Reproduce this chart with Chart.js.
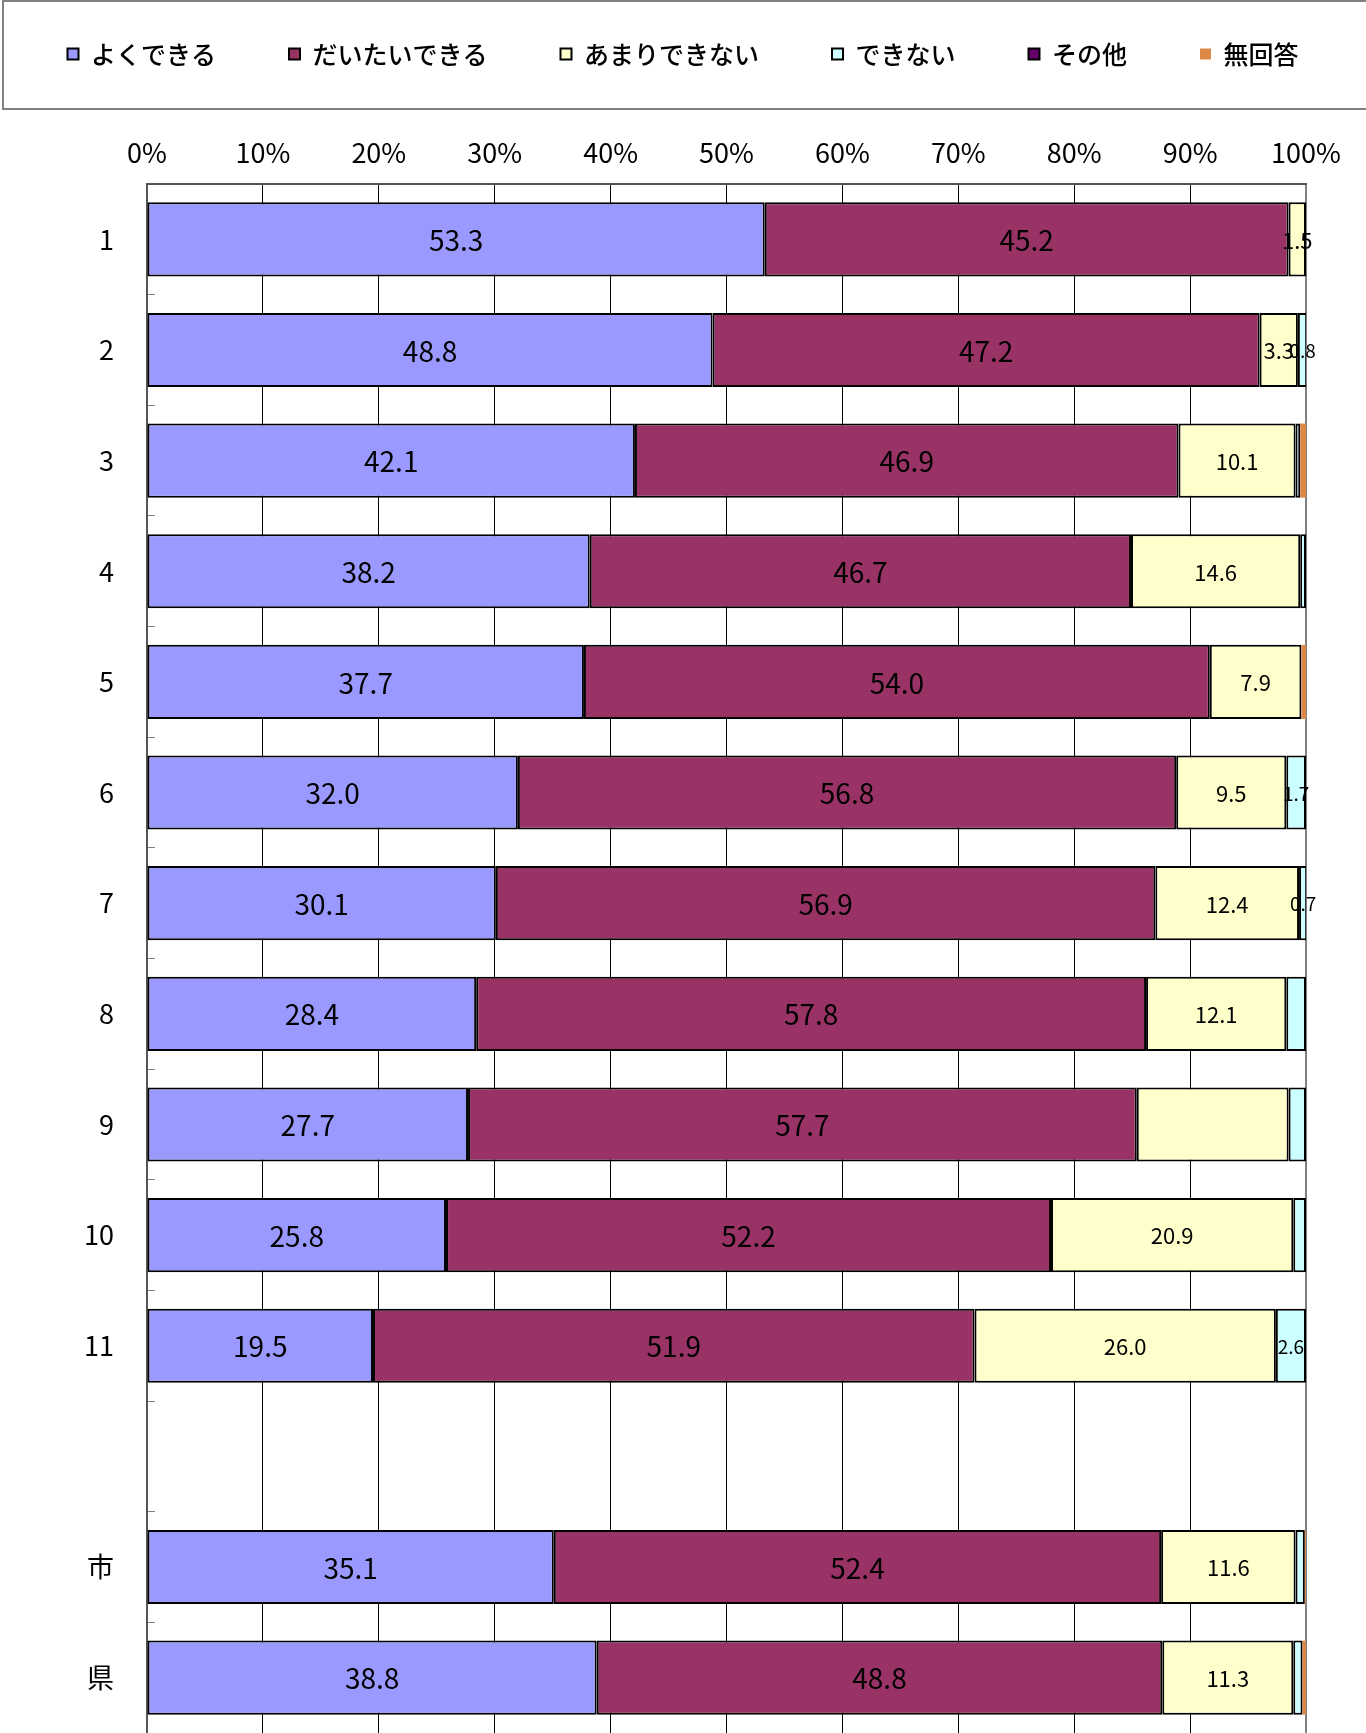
<!DOCTYPE html>
<html lang="ja">
<head>
<meta charset="UTF-8">
<title>できる度合い</title>
<script src="https://cdn.jsdelivr.net/npm/chart.js@4.4.1/dist/chart.umd.min.js"></script>
<style>
  html, body { margin: 0; padding: 0; background: #fff; }
  #wrap { width: 1366px; height: 1733px; position: relative; }
</style>
</head>
<body>
<div id="wrap"><canvas id="chart"></canvas></div>
<script>
// -----------------------------
// Data
// -----------------------------
const categories = ['1', '2', '3', '4', '5', '6', '7', '8', '9', '10', '11', '', '市', '県'];
const seriesNames = ['よくできる', 'だいたいできる', 'あまりできない', 'できない', 'その他', '無回答'];
const tickLabels = ['0%', '10%', '20%', '30%', '40%', '50%', '60%', '70%', '80%', '90%', '100%'];

const yokuDekiru   = [53.3, 48.8, 42.1, 38.2, 37.7, 32.0, 30.1, 28.4, 27.7, 25.8, 19.5, null, 35.1, 38.8];
const daitaiDekiru = [45.2, 47.2, 46.9, 46.7, 54.0, 56.8, 56.9, 57.8, 57.7, 52.2, 51.9, null, 52.4, 48.8];
const amariDekinai = [1.5, 3.3, 10.1, 14.6, 7.9, 9.5, 12.4, 12.1, 13.1, 20.9, 26.0, null, 11.6, 11.3];
const dekinai      = [0, 0.8, 0.4, 0.5, 0, 1.7, 0.7, 1.7, 1.5, 1.1, 2.6, null, 0.8, 0.8];
const sonota       = [0, 0, 0, 0, 0, 0, 0, 0, 0, 0, 0, null, 0, 0];
const mukaitou     = [0, 0, 0.5, 0, 0.4, 0, 0, 0, 0, 0, 0, null, 0.1, 0.3];

// which segments carry a value label (1 = shown)
const labelYoku    = [1, 1, 1, 1, 1, 1, 1, 1, 1, 1, 1, 0, 1, 1];
const labelDaitai  = [1, 1, 1, 1, 1, 1, 1, 1, 1, 1, 1, 0, 1, 1];
const labelAmari   = [1, 1, 1, 1, 1, 1, 1, 1, 0, 1, 1, 0, 1, 1];
const labelDekinai = [0, 1, 0, 0, 0, 1, 1, 0, 0, 0, 1, 0, 0, 0];
const labelNone    = [0, 0, 0, 0, 0, 0, 0, 0, 0, 0, 0, 0, 0, 0];

// -----------------------------
// Styles
// -----------------------------
const colors = ['#9999FF', '#993366', '#FFFFCC', '#CCFFFF', '#660066', '#DD8844'];
const labelSizes = [28, 28, 22, 19, 19, 19];
const numFont = "'Noto Sans CJK JP', sans-serif";
const jpFont = "'Noto Sans CJK JP', sans-serif";

const seriesData = [yokuDekiru, daitaiDekiru, amariDekinai, dekinai, sonota, mukaitou];
const labelFlags = [labelYoku, labelDaitai, labelAmari, labelDekinai, labelNone, labelNone];

const datasets = seriesNames.map((name, i) => ({
    label: name,
    data: seriesData[i],
    backgroundColor: colors[i],
    borderColor: '#000',
    borderWidth: i === 5 ? 0 : 2,
    borderSkipped: false,
    barPercentage: 0.67,
    categoryPercentage: 1,
    showLabel: labelFlags[i],
    labelSize: labelSizes[i]
}));

// -----------------------------
// Plugins
// -----------------------------
const legendFrame = {
    id: 'legendFrame',
    afterDraw(chart) {
        const ctx = chart.ctx;
        ctx.save();
        ctx.strokeStyle = '#808080';
        ctx.lineWidth = 2;
        ctx.strokeRect(3, 1, chart.width + 10, 108);
        ctx.restore();
    }
};

const valueLabels = {
    id: 'valueLabels',
    afterDatasetsDraw(chart) {
        const ctx = chart.ctx;
        chart.data.datasets.forEach((ds, i) => {
            const meta = chart.getDatasetMeta(i);
            meta.data.forEach((bar, j) => {
                if (!ds.showLabel[j] || ds.data[j] == null) return;
                ctx.save();
                ctx.font = ds.labelSize + 'px ' + numFont;
                ctx.fillStyle = '#000';
                ctx.textAlign = 'center';
                ctx.textBaseline = 'middle';
                ctx.fillText(ds.data[j].toFixed(1), (bar.x + bar.base) / 2, bar.y + 1);
                ctx.restore();
            });
        });
    }
};

// -----------------------------
// Chart
// -----------------------------
new Chart(document.getElementById('chart'), {
    type: 'bar',
    data: { labels: categories, datasets: datasets },
    options: {
        indexAxis: 'y',
        responsive: true,
        maintainAspectRatio: false,
        animation: false,
        devicePixelRatio: 1,
        layout: { padding: { top: -31.5, left: -30, right: -30, bottom: -5 } },
        plugins: {
            legend: {
                position: 'top',
                labels: {
                    boxWidth: 11,
                    boxHeight: 11,
                    padding: 73,
                    color: '#000',
                    font: { family: jpFont, size: 25, weight: 500 }
                }
            },
            tooltip: { enabled: false }
        },
        scales: {
            x: {
                position: 'top',
                stacked: true,
                min: 0,
                max: 100,
                ticks: {
                    stepSize: 10,
                    padding: 15,
                    color: '#000',
                    font: { family: numFont, size: 27 },
                    callback: (v, i) => tickLabels[i]
                },
                grid: {
                    drawTicks: false,
                    color: c => (c.tick && c.tick.value === 100 ? '#808080' : '#000'),
                    lineWidth: c => (c.tick && c.tick.value === 100 ? 2 : 1)
                },
                border: { color: '#555', width: 2 },
                afterFit: s => { s.height = 107.5; s.paddingRight = 60; s.paddingLeft = 0; }
            },
            y: {
                stacked: true,
                ticks: {
                    padding: 41,
                    color: '#000',
                    font: { family: numFont, size: 27 }
                },
                grid: {
                    drawOnChartArea: false,
                    drawTicks: true,
                    tickLength: -8,
                    color: '#808080',
                    lineWidth: 1
                },
                border: { color: '#555', width: 2 },
                afterFit: s => { s.width = 177; s.paddingTop = 0; s.paddingBottom = 0; }
            }
        }
    },
    plugins: [valueLabels, legendFrame]
});
</script>
</body>
</html>
